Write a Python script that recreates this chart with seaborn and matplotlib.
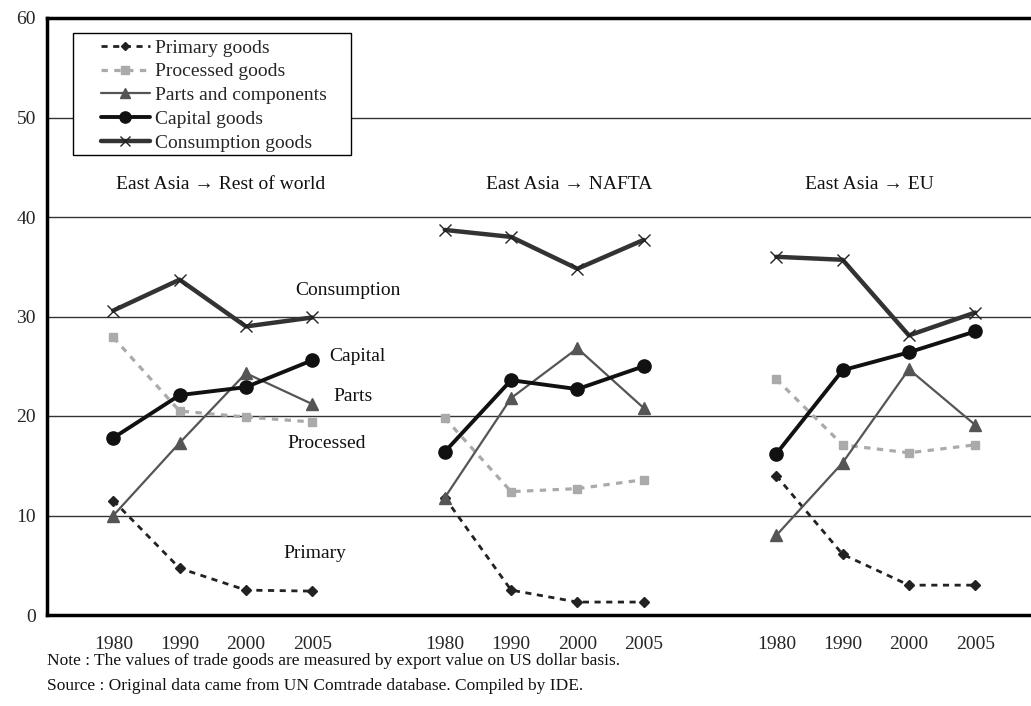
import numpy as np
import pandas as pd
import matplotlib
matplotlib.use("Agg")
import matplotlib.pyplot as plt
import seaborn as sns
from matplotlib.lines import Line2D
from matplotlib.patches import Rectangle

# ---- data ----
years = ["1980", "1990", "2000", "2005"]
regions = ["East Asia \u2192 Rest of world", "East Asia \u2192 NAFTA", "East Asia \u2192 EU"]
series = ["Primary goods", "Processed goods", "Parts and components", "Capital goods", "Consumption goods"]

primary_row = [11.5, 4.7, 2.5, 2.4]
primary_nafta = [11.8, 2.5, 1.3, 1.3]
primary_eu = [14.0, 6.1, 3.0, 3.0]

processed_row = [27.9, 20.5, 19.9, 19.4]
processed_nafta = [19.8, 12.4, 12.7, 13.6]
processed_eu = [23.7, 17.1, 16.3, 17.1]

parts_row = [10.0, 17.3, 24.3, 21.2]
parts_nafta = [11.8, 21.8, 26.8, 20.8]
parts_eu = [8.0, 15.3, 24.7, 19.1]

capital_row = [17.8, 22.1, 22.9, 25.6]
capital_nafta = [16.4, 23.6, 22.7, 25.0]
capital_eu = [16.2, 24.6, 26.4, 28.5]

consumption_row = [30.6, 33.7, 29.0, 29.9]
consumption_nafta = [38.7, 38.0, 34.8, 37.7]
consumption_eu = [36.0, 35.7, 28.1, 30.4]

labels_inline = ["Consumption", "Capital", "Parts", "Processed", "Primary"]

values = {
    "Primary goods": [primary_row, primary_nafta, primary_eu],
    "Processed goods": [processed_row, processed_nafta, processed_eu],
    "Parts and components": [parts_row, parts_nafta, parts_eu],
    "Capital goods": [capital_row, capital_nafta, capital_eu],
    "Consumption goods": [consumption_row, consumption_nafta, consumption_eu],
}

rows = []
for s in series:
    for ri, r in enumerate(regions):
        for yi, y in enumerate(years):
            rows.append({"series": s, "region": r, "pos": ri * 5 + yi + 1,
                         "year": y, "value": values[s][ri][yi]})
df = pd.DataFrame(rows)

# ---- style ----
sns.set_theme(style="white")
plt.rcParams["font.family"] = ["Liberation Serif", "DejaVu Serif"]

styles = {
    "Primary goods": dict(color="#222222", lw=2.0, ls=(0, (2.2, 2.0)), marker="D", ms=5, mec="#222222", mfc="#222222"),
    "Processed goods": dict(color="#aaaaaa", lw=2.3, ls=(0, (2.0, 2.0)), marker="s", ms=6, mec="#aaaaaa", mfc="#aaaaaa"),
    "Parts and components": dict(color="#555555", lw=1.6, ls="-", marker="^", ms=9, mec="#555555", mfc="#555555"),
    "Capital goods": dict(color="#111111", lw=2.8, ls="-", marker="o", ms=9.5, mec="#111111", mfc="#111111"),
    "Consumption goods": dict(color="#333333", lw=3.2, ls="-", marker="x", ms=8, mew=1.0, mec="#222222"),
}

W, H = 1031, 706
fig = plt.figure(figsize=(W / 100, H / 100), dpi=100)
left, right, top, bottom = 47, 1031, 18, 615
ax = fig.add_axes([left / W, (H - bottom) / H, (right - left) / W, (bottom - top) / H])

for s in series:
    st = styles[s]
    sub = df[df["series"] == s]
    sns.lineplot(data=sub, x="pos", y="value", units="region", estimator=None,
                 ax=ax, legend=False, color=st["color"], linewidth=st["lw"],
                 linestyle=st["ls"], marker=st["marker"], markersize=st["ms"],
                 markeredgecolor=st.get("mec"), markerfacecolor=st.get("mfc", st["color"]),
                 markeredgewidth=st.get("mew", 1.0), zorder=3)

span = (right - left) / 66.3
ax.set_xlim(0, span)
ax.set_ylim(0, 60)
ax.set_yticks([0, 10, 20, 30, 40, 50, 60])
ax.set_yticklabels(["0", "10", "20", "30", "40", "50", "60"], fontsize=14)
ax.set_xticks(list(range(1, 15)))
xt = []
for i in range(1, 15):
    if i % 5 == 0:
        xt.append("")
    else:
        xt.append(years[(i - 1) % 5])
ax.set_xticklabels(xt, fontsize=14)
ax.tick_params(axis="x", direction="in", length=6, width=1, color="#333333", pad=15)
ax.tick_params(axis="y", length=0, pad=8)
ax.set_xlabel("")
ax.set_ylabel("")

for yv in [10, 20, 30, 40, 50]:
    ax.axhline(yv, color="#333333", lw=1.0, zorder=1)

for sp in ["left", "bottom", "top"]:
    ax.spines[sp].set_visible(True)
    ax.spines[sp].set_color("black")
    ax.spines[sp].set_linewidth(2.5)
ax.spines["right"].set_visible(False)

# panel titles
title_x = [2.62, 7.87, 12.41]
for tx, r in zip(title_x, regions):
    ax.text(tx, 43.3, r, ha="center", va="center", fontsize=14, color="#111111")

# inline labels
inline_pos = [(4.54, 32.6), (4.68, 26.0), (4.62, 22.0), (4.22, 17.2), (4.04, 6.2)]
for lab, (lx, ly) in zip(labels_inline, inline_pos):
    ax.text(lx, ly, lab, ha="center", va="center", fontsize=14, color="#111111")

# legend box (frame drawn in pixel coordinates of the figure)
bx0, by0, bx1, by1 = 73, 33, 351, 155
rect = Rectangle((bx0 / W, 1 - by1 / H), (bx1 - bx0) / W, (by1 - by0) / H,
                 transform=fig.transFigure, facecolor="white", edgecolor="black",
                 lw=1.0, zorder=4)
fig.patches.append(rect)

handles = []
for s in series:
    st = styles[s]
    handles.append(Line2D([0], [0], color=st["color"], lw=st["lw"], ls=st["ls"],
                          marker=st["marker"], ms=st["ms"] * 0.85,
                          mec=st.get("mec"), mfc=st.get("mfc", st["color"]),
                          mew=st.get("mew", 1.0)))
leg = fig.legend(handles, series, loc="upper left",
                 bbox_to_anchor=(101 / W, 1 - 39 / H),
                 borderaxespad=0, fontsize=14, frameon=False,
                 handlelength=2.5, handletextpad=0.3,
                 labelspacing=0.32, borderpad=0.0)
leg.set_zorder(6)

fig.text(47 / W, 1 - 661 / H, "Note : The values of trade goods are measured by export value on US dollar basis.",
         fontsize=12.5, ha="left", va="center", color="#111111")
fig.text(47 / W, 1 - 686 / H, "Source : Original data came from UN Comtrade database. Compiled by IDE.",
         fontsize=12.5, ha="left", va="center", color="#111111")

fig.savefig("out.png", dpi=100, facecolor="white")
